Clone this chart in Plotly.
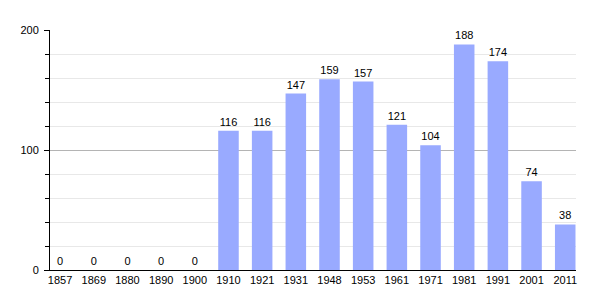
import plotly.graph_objects as go

years = ["1857", "1869", "1880", "1890", "1900", "1910", "1921", "1931",
         "1948", "1953", "1961", "1971", "1981", "1991", "2001", "2011"]
population = [0, 0, 0, 0, 0, 116, 116, 147, 159, 157, 121, 104, 188, 174, 74, 38]
y_ticks = [0, 100, 200]

xpos = list(range(len(years)))

fig = go.Figure(go.Bar(
    x=xpos, y=population, width=0.61,
    marker=dict(color="#99aaff", line=dict(width=0)),
    text=[str(v) for v in population], textposition="outside",
    textfont=dict(size=11, color="#000000"),
    outsidetextfont=dict(size=11, color="#000000"),
    cliponaxis=False,
))

fig.update_layout(
    width=605, height=300,
    margin=dict(l=50, r=29, t=30, b=30),
    paper_bgcolor="white", plot_bgcolor="white",
    font=dict(family="Liberation Sans, Arial, sans-serif", size=11, color="#000"),
    showlegend=False,
    xaxis=dict(range=[-0.3, 15.32], tickmode="array", tickvals=xpos, ticktext=years,
               showgrid=False, zeroline=False, showline=True, linecolor="#000",
               linewidth=1, ticks="", ticklen=0, tickfont=dict(size=11)),
    yaxis=dict(range=[0, 200], tickvals=y_ticks, showgrid=True, gridcolor="#b4b4b4",
               gridwidth=1, zeroline=False, showline=True, linecolor="#000", linewidth=1,
               ticks="outside", ticklen=5, tickcolor="#000", tickfont=dict(size=11),
               ticklabelstandoff=3,
               minor=dict(dtick=20, showgrid=True, gridcolor="#e8e8e8", gridwidth=1,
                          ticks="outside", ticklen=4, tickcolor="#000")),
)

fig.write_html("out.html")
